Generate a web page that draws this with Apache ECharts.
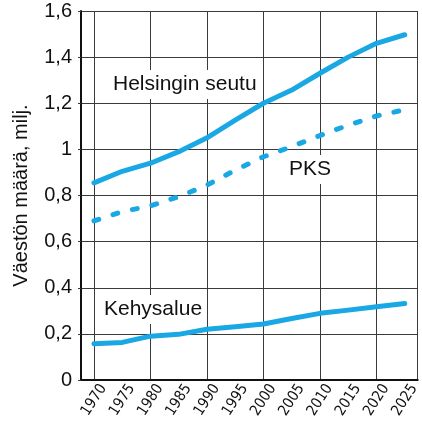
<!DOCTYPE html>
<html>
<head>
<meta charset="utf-8">
<script src="https://cdn.jsdelivr.net/npm/echarts@6/dist/echarts.min.js"></script>
<style>
  html, body { margin: 0; padding: 0; background: #fff; }
  #chart { width: 422px; height: 421px; }
</style>
</head>
<body>
<div id="chart"></div>
<script>
const years = [1970, 1975, 1980, 1985, 1990, 1995, 2000, 2005, 2010, 2015, 2020, 2025]
const helsinginSeutu = [0.855, 0.905, 0.94, 0.99, 1.05, 1.127, 1.2, 1.257, 1.33, 1.4, 1.46, 1.497]
const pks = [0.69, 0.73, 0.755, 0.795, 0.845, 0.91, 0.968, 1.012, 1.06, 1.105, 1.145, 1.172]
const kehysalue = [0.157, 0.163, 0.19, 0.198, 0.22, 0.231, 0.243, 0.267, 0.289, 0.303, 0.318, 0.332]

const blue = '#19a8e4'
const font = "'Liberation Sans', Arial, sans-serif"

function toPairs(vals) { return vals.map((v, i) => [years[i], v]) }

const chart = echarts.init(document.getElementById('chart'))

const lineSeries = (name, data, dashed) => ({
  name,
  type: 'line',
  data: toPairs(data),
  symbol: 'none',
  silent: true,
  z: 5,
  lineStyle: {
    color: blue,
    width: 5,
    type: dashed ? [5, 15] : 'solid',
    cap: 'round',
    join: 'round'
  }
})

const textBox = (text, x, y) => ({
  type: 'text',
  left: x,
  top: y,
  z: 4,
  style: {
    text,
    font: '21px ' + font,
    fill: '#111',
    backgroundColor: '#fff',
    padding: [4, 2]
  }
})

chart.setOption({
  animation: false,
  grid: { left: 81, right: 0, top: 11, bottom: 41 },
  xAxis: [{
    type: 'value',
    min: 1967.7,
    max: 2027.3,
    minInterval: 5,
    maxInterval: 5,
    splitNumber: 12,
    axisLine: { show: true, onZero: false, lineStyle: { color: '#111', width: 2 } },
    axisTick: { show: false },
    splitLine: { show: false },
    axisLabel: {
      showMinLabel: false,
      showMaxLabel: false,
      rotate: 57,
      align: 'center',
      verticalAlign: 'middle',
      margin: 20,
      color: '#111',
      fontSize: 15,
      fontFamily: "'Liberation Sans Narrow', 'DejaVu Sans Condensed', sans-serif",
      formatter: (v) => (v % 5 === 0 ? String(v) : '')
    }
  }, {
    type: 'value',
    position: 'top',
    min: 1967.7,
    max: 2027.3,
    minInterval: 10,
    maxInterval: 10,
    splitNumber: 6,
    axisLine: { show: false },
    axisTick: { show: false },
    axisLabel: { show: false },
    splitLine: { show: true, lineStyle: { color: '#3a3a3a', width: 1 } }
  }],
  yAxis: {
    type: 'value',
    min: 0,
    max: 1.6,
    interval: 0.2,
    name: 'Väestön määrä, milj.',
    nameLocation: 'middle',
    nameGap: 50,
    nameTextStyle: { fontSize: 20, fontFamily: font, color: '#111' },
    axisLine: { show: true, lineStyle: { color: '#111', width: 2 } },
    axisTick: { show: true, length: 3, lineStyle: { color: '#3a3a3a' } },
    splitLine: { show: true, lineStyle: { color: '#3a3a3a', width: 1 } },
    axisLabel: {
      margin: 9,
      color: '#111',
      fontSize: 20,
      fontFamily: font,
      formatter: (v) => String(+v.toFixed(1)).replace('.', ',')
    }
  },
  graphic: [
    textBox('Helsingin seutu', 111, 70),
    textBox('PKS', 287, 155),
    textBox('Kehysalue', 102, 295)
  ],
  series: [
    lineSeries('Helsingin seutu', helsinginSeutu, false),
    lineSeries('PKS', pks, true),
    lineSeries('Kehysalue', kehysalue, false)
  ]
})
</script>
</body>
</html>
